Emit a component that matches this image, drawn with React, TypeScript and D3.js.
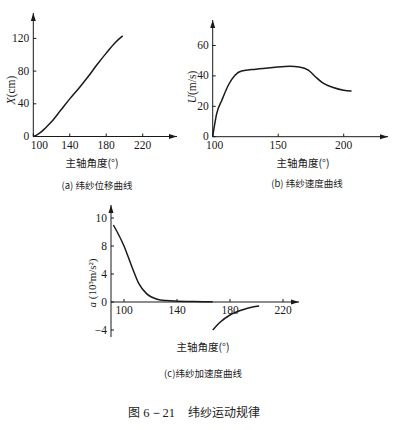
import React from 'react';
import * as d3 from 'd3';

// (a) displacement
const dispAngle = [100, 104, 108, 112, 116, 120, 130, 140, 150, 160, 170, 180, 190, 198];
const dispValue = [0, 2, 5, 9, 13.5, 18, 32, 46, 59, 73, 88, 102, 115, 123];
const dispXTicks = [100, 140, 180, 220];
const dispYTicks = [0, 40, 80, 120];

// (b) velocity
const velAngle = [100, 103, 107, 112, 117, 122, 133, 146, 159, 166, 173, 178, 184, 192, 200, 206];
const velValue = [0, 15, 24, 34, 40.5, 43.2, 44.4, 45.5, 46.4, 45.9, 43.8, 39.8, 35.4, 32.4, 30.6, 30.1];
const velXTicks = [100, 150, 200];
const velYTicks = [0, 20, 40, 60];

// (c) acceleration, two branches
const accPosAngle = [92, 100, 106, 111, 117, 125, 132, 140, 150, 160, 167];
const accPosValue = [11, 8, 5, 2.7, 1.2, 0.4, 0.2, 0.12, 0.08, 0.05, 0.05];
const accNegAngle = [167, 172.5, 180, 189, 197, 202];
const accNegValue = [-4, -2.9, -1.86, -1.14, -0.71, -0.57];
const accXTicks = [100, 140, 180, 220];
const accYTicks = [-4, 0, 4, 8, 12];
const accYTickLabels = ['−4', '0', '4', '8', '10'];

const serif = '"Liberation Serif", "DejaVu Serif", serif';
const cjk = '"Noto Sans CJK SC", sans-serif';
const ink = '#1a1a1a';

type Series = { xs: number[]; ys: number[] };

type PanelProps = {
  x: d3.ScaleLinear<number, number>;
  y: d3.ScaleLinear<number, number>;
  xTicks: number[];
  yTicks: number[];
  yTickLabels?: string[];
  originX: number;
  originY: number;
  xEnd: number;
  yTop: number;
  yBottom?: number;
  firstXLabelDx?: number;
  series: Series[];
};

const Panel = ({ x, y, xTicks, yTicks, yTickLabels, originX, originY, xEnd, yTop, yBottom, firstXLabelDx, series }: PanelProps) => {
  const line = d3
    .line<[number, number]>()
    .x(d => x(d[0]))
    .y(d => y(d[1]))
    .curve(d3.curveMonotoneX);
  const y0 = y(0);
  return (
    <g>
      {/* axes with arrow heads */}
      <line x1={originX} x2={xEnd} y1={y0} y2={y0} stroke={ink} strokeWidth={1} />
      <line x1={originX} x2={originX} y1={yBottom ?? originY} y2={yTop} stroke={ink} strokeWidth={1} />
      <path d={`M${xEnd},${y0}L${xEnd - 8},${y0 - 2.5}L${xEnd - 8},${y0 + 2.5}Z`} fill={ink} />
      <path d={`M${originX},${yTop}L${originX - 2.5},${yTop + 8}L${originX + 2.5},${yTop + 8}Z`} fill={ink} />
      {xTicks.map((t, i) => (
        <g key={'x' + t}>
          <line x1={x(t)} x2={x(t)} y1={y0} y2={y0 - 3} stroke={ink} />
          <text
            x={x(t) + (i === 0 && firstXLabelDx ? firstXLabelDx : 0)}
            y={y0 + 12}
            textAnchor="middle"
            fontFamily={serif}
            fontSize={11.5}
            fill={ink}
          >
            {t}
          </text>
        </g>
      ))}
      {yTicks.map((t, i) => (
        <g key={'y' + t}>
          <line x1={originX} x2={originX + 3} y1={y(t)} y2={y(t)} stroke={ink} />
          <text x={originX - 4} y={y(t) + 3.5} textAnchor="end" fontFamily={serif} fontSize={11.5} fill={ink}>
            {yTickLabels ? yTickLabels[i] : t}
          </text>
        </g>
      ))}
      {series.map((s, i) => (
        <path
          key={i}
          d={line(s.xs.map((v, j) => [v, s.ys[j]] as [number, number])) || ''}
          fill="none"
          stroke={ink}
          strokeWidth={1.5}
        />
      ))}
    </g>
  );
};

const App = () => {
  const ax = d3.scaleLinear().domain([100, 220]).range([33.3, 142.7]);
  const ay = d3.scaleLinear().domain([0, 120]).range([136.5, 38.4]);
  const bx = d3.scaleLinear().domain([100, 200]).range([212.7, 343.7]);
  const by = d3.scaleLinear().domain([0, 60]).range([136.7, 45.5]);
  const cx = d3.scaleLinear().domain([100, 220]).range([124, 283]);
  const cy = d3.scaleLinear().domain([0, 12]).range([302, 218]);

  return (
    <svg width={394} height={430} style={{ position: 'absolute', left: 0, top: 0, background: '#fff' }}>
      <Panel
        x={ax}
        y={ay}
        xTicks={dispXTicks}
        yTicks={dispYTicks}
        originX={ax(100)}
        originY={ay(0)}
        xEnd={177}
        yTop={13}
        firstXLabelDx={6}
        series={[{ xs: dispAngle, ys: dispValue }]}
      />
      <text transform="translate(15,90) rotate(-90)" textAnchor="middle" fontFamily={serif} fontSize={11.5} fill={ink}>
        <tspan fontStyle="italic">X</tspan>(cm)
      </text>
      <text x={92} y={167} textAnchor="middle" fontFamily={cjk} fontSize={10.5} fill={ink}>主轴角度(°)</text>
      <text x={97} y={189} textAnchor="middle" fontFamily={cjk} fontSize={9.5} fill={ink}>(a) 纬纱位移曲线</text>

      <Panel
        x={bx}
        y={by}
        xTicks={velXTicks}
        yTicks={velYTicks}
        originX={bx(100)}
        originY={by(0)}
        xEnd={388}
        yTop={20}
        firstXLabelDx={2}
        series={[{ xs: velAngle, ys: velValue }]}
      />
      <text transform="translate(196,87) rotate(-90)" textAnchor="middle" fontFamily={serif} fontSize={11.5} fill={ink}>
        <tspan fontStyle="italic">U</tspan>(m/s)
      </text>
      <text x={303} y={167} textAnchor="middle" fontFamily={cjk} fontSize={10.5} fill={ink}>主轴角度(°)</text>
      <text x={307} y={187} textAnchor="middle" fontFamily={cjk} fontSize={9.5} fill={ink}>(b) 纬纱速度曲线</text>

      <Panel
        x={cx}
        y={cy}
        xTicks={accXTicks}
        yTicks={accYTicks}
        yTickLabels={accYTickLabels}
        originX={111}
        originY={cy(0)}
        xEnd={299}
        yTop={205}
        yBottom={337}
        series={[
          { xs: accPosAngle, ys: accPosValue },
          { xs: accNegAngle, ys: accNegValue },
        ]}
      />
      <text transform="translate(96,283) rotate(-90)" textAnchor="middle" fontFamily={serif} fontSize={11} fill={ink}>
        <tspan fontStyle="italic">a</tspan> (10³m/s²)
      </text>
      <text x={203} y={351} textAnchor="middle" fontFamily={cjk} fontSize={10.5} fill={ink}>主轴角度(°)</text>
      <text x={203} y={377} textAnchor="middle" fontFamily={cjk} fontSize={9.5} fill={ink}>(c)纬纱加速度曲线</text>

      <text x={175} y={417} textAnchor="end" fontFamily={serif} fontSize={12.5} fill={ink}>
        <tspan fontFamily={cjk} fontSize={12}>图</tspan> 6－21
      </text>
      <text x={188} y={417} fontFamily={cjk} fontSize={12} fill={ink}>纬纱运动规律</text>
    </svg>
  );
};

export default App;
